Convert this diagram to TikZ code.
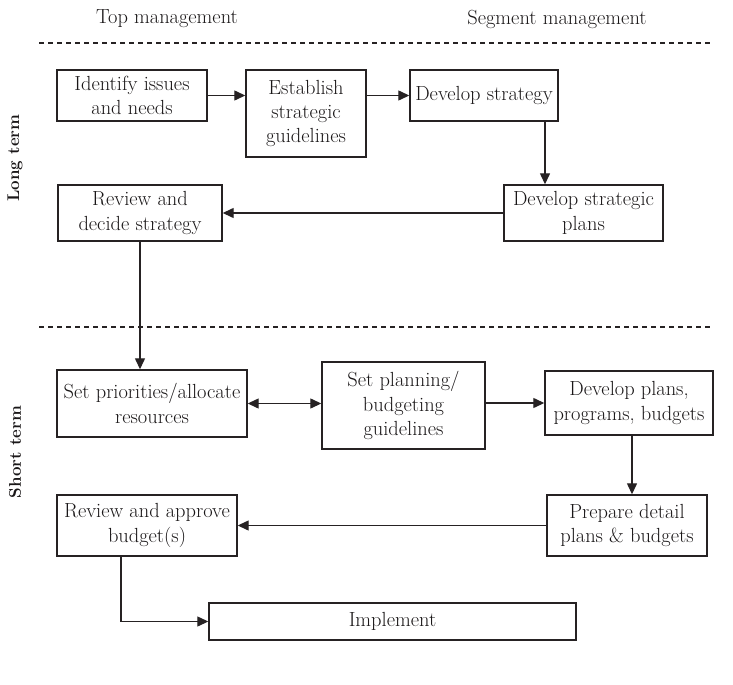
\documentclass[tikz,border=0pt]{standalone}
\usepackage{xcolor}
\usepackage{tikz}
\usetikzlibrary{arrows.meta, positioning, calc}
\definecolor{boxink}{HTML}{1A1718}
\definecolor{lineink}{HTML}{262223}
\tikzset{
  pbox/.style={draw=lineink, fill=white, align=center, inner sep=0pt,
    font=\fontsize{20.5}{24.5}\selectfont, text=boxink, line width=1.4bp},
  hdr/.style={font=\fontsize{20.5}{24.5}\selectfont, text=boxink},
  side/.style={rotate=90, font=\bfseries\fontsize{17}{20}\selectfont, text=boxink},
  flow/.style={-{Triangle[length=11bp, width=10bp]}, draw=lineink, line width=1.3bp},
  bothflow/.style={{Triangle[length=11bp, width=10bp]}-{Triangle[length=11bp, width=10bp]}, draw=lineink, line width=1.3bp},
  sep/.style={draw=lineink, dash pattern=on 5bp off 4bp, line width=1.1bp}
}

\begin{document}
\begin{tikzpicture}[x=1bp, y=-1bp]
\useasboundingbox (0,0) rectangle (733,685);
% headings and separators
\node[hdr] (top) at (167,19) {Top management};
\node[hdr] (seg) at (557,19) {Segment management};
\node[side] (long) at (15,158) {Long term};
\node[side] (short) at (15,452) {Short term};
\draw[sep] (39,43) -- (713,43);
\draw[sep] (39,327) -- (713,327);
% long term
\node[pbox, minimum width=150bp, minimum height=51bp] (issues) at (132,95.5) {Identify issues\\and needs};
\node[pbox, minimum width=120bp, minimum height=87bp] (guide) at (306,113.5) {Establish\\strategic\\guidelines};
\node[pbox, minimum width=148bp, minimum height=51bp] (strat) at (484,95.5) {Develop strategy};
\node[pbox, minimum width=159bp, minimum height=56bp] (splans) at (583.5,213) {Develop strategic\\plans};
\node[pbox, minimum width=164bp, minimum height=56bp] (decide) at (140,213) {Review and\\decide strategy};
% short term
\node[pbox, minimum width=190bp, minimum height=67bp] (prio) at (152,403.5) {Set priorities/allocate\\resources};
\node[pbox, minimum width=163bp, minimum height=87bp] (budguide) at (403.5,405.5) {Set planning/\\budgeting\\guidelines};
\node[pbox, minimum width=168bp, minimum height=64bp] (programs) at (629,403) {Develop plans,\\programs, budgets};
\node[pbox, minimum width=160bp, minimum height=61bp] (detail) at (627,525.5) {Prepare detail\\plans \& budgets};
\node[pbox, minimum width=180bp, minimum height=61bp] (approve) at (147,525.5) {Review and approve\\budget(s)};
\node[pbox, minimum width=367bp, minimum height=37bp] (impl) at (392.5,621.5) {Implement};
% connectors
\draw[flow] (issues.east) -- (issues.east -| guide.west);
\draw[flow] (guide.east |- strat.west) -- (strat.west);
\draw[flow] ([xshift=61bp]strat.south) -- ([xshift=61bp]strat.south |- splans.north);
\draw[flow] (splans.west) -- (decide.east);
\draw[flow] (decide.south) -- (decide.south |- prio.north);
\draw[bothflow] (prio.east) -- (prio.east -| budguide.west);
\draw[flow] (budguide.east |- programs.west) -- (programs.west);
\draw[flow] ([xshift=3bp]programs.south) -- ([xshift=3bp]programs.south |- detail.north);
\draw[flow] (detail.west) -- (approve.east);
\draw[flow] ([xshift=-26bp]approve.south) |- (impl.west);
\end{tikzpicture}
\end{document}
